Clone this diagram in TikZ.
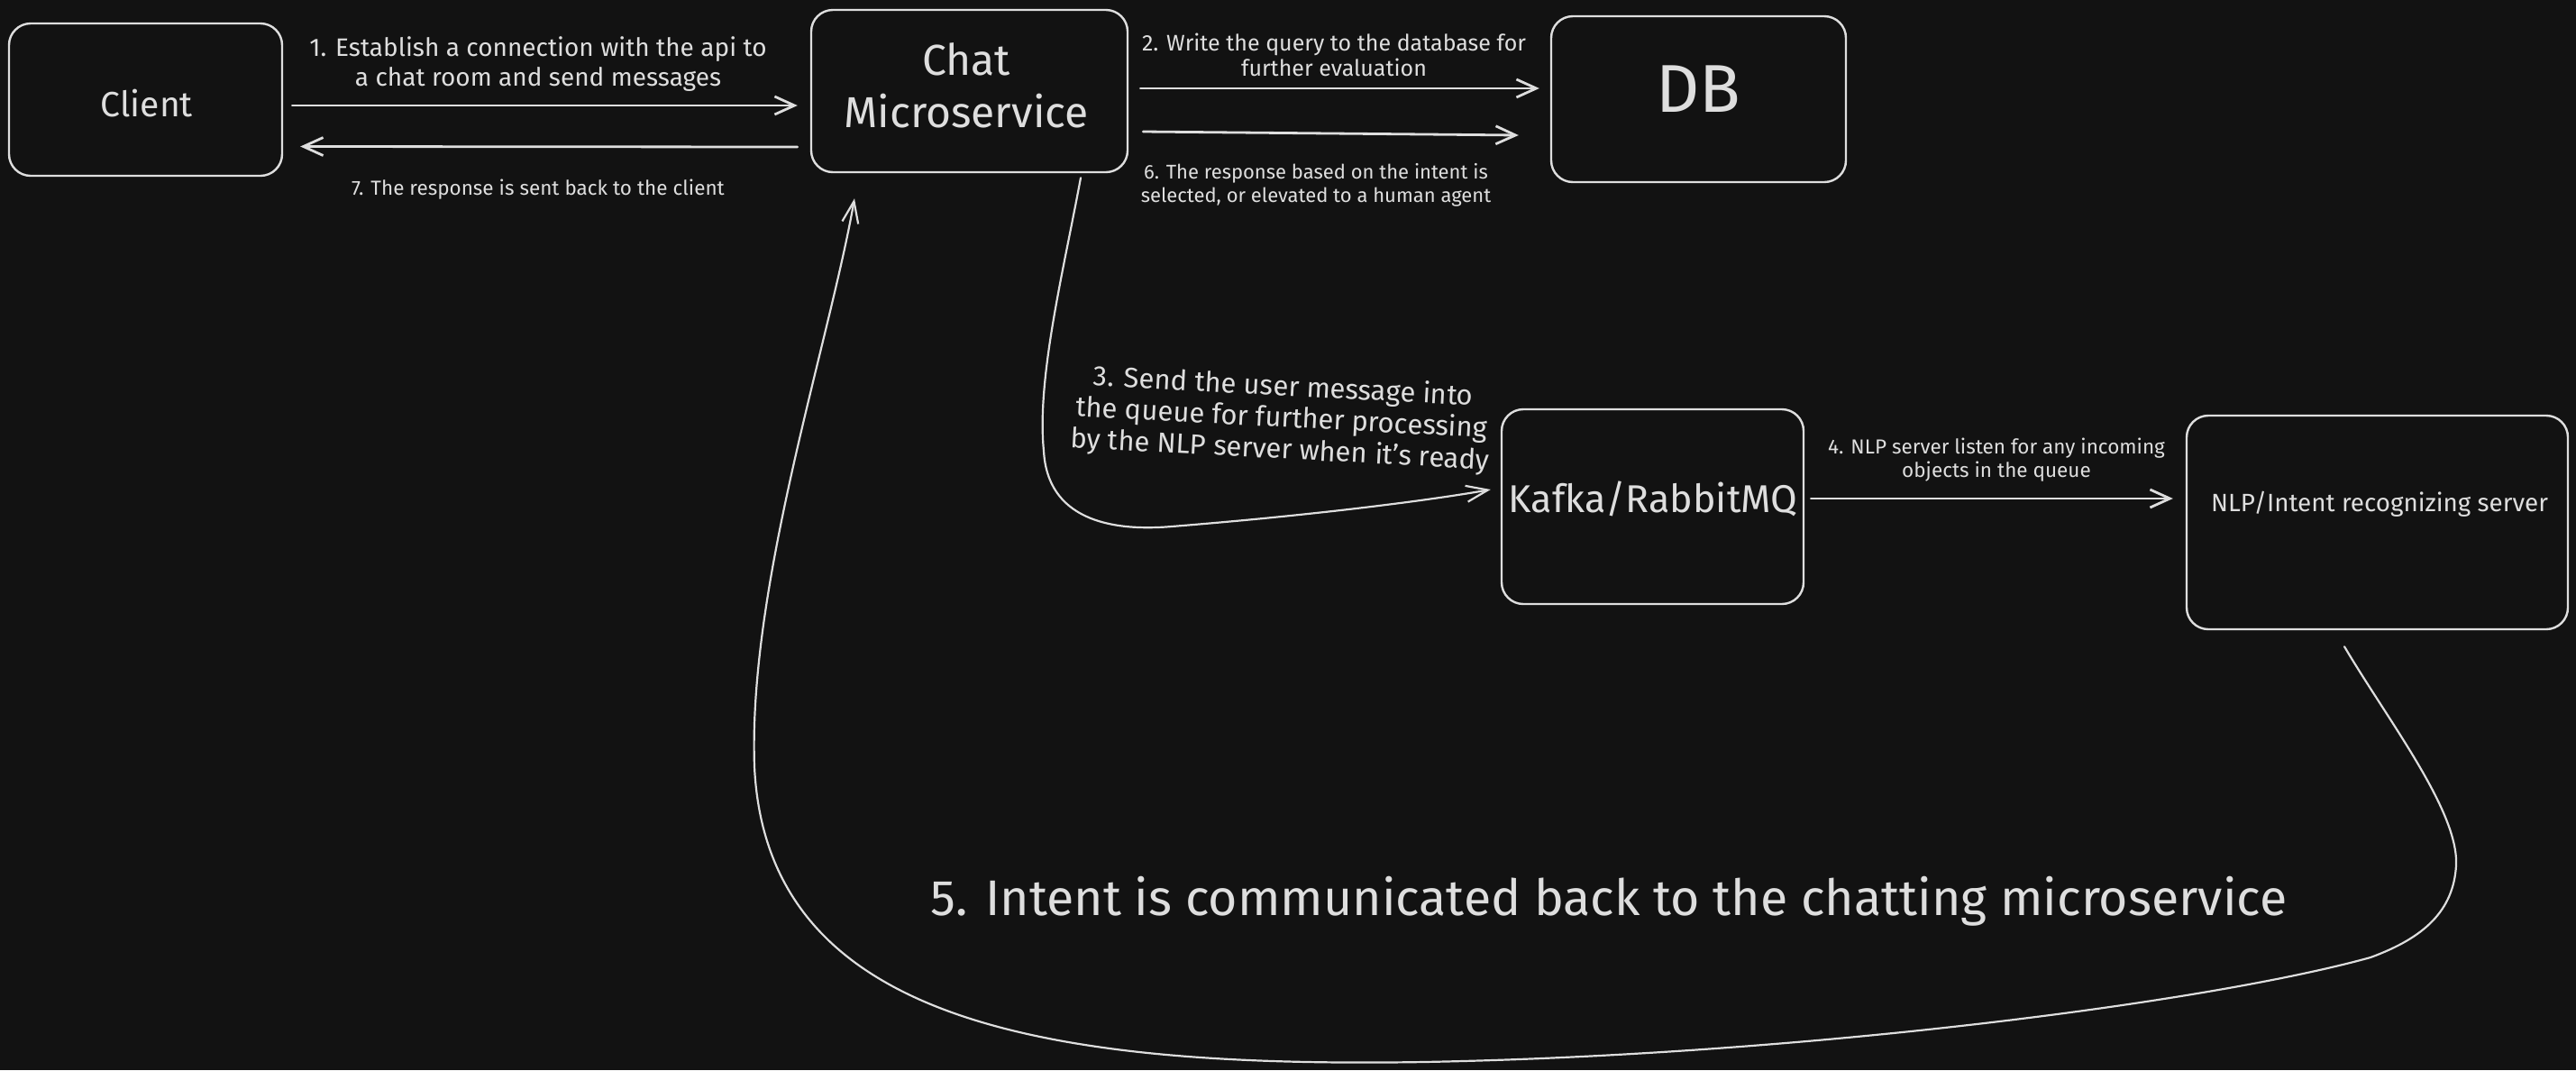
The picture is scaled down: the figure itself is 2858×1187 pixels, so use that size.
\documentclass[tikz,border=0pt]{standalone}
\usepackage{fontspec}
\setmainfont{Fira Sans}
\usetikzlibrary{arrows.meta,calc}
\definecolor{bg}{HTML}{121212}
\definecolor{ink}{HTML}{DEDEDE}
\begin{document}
\begin{tikzpicture}[x=1pt,y=-1pt,
  box/.style={draw=ink, line width=2.4pt, rounded corners=24pt, inner sep=0pt},
  lbl/.style={text=ink, inner sep=0pt, align=center},
  conn/.style={draw=ink, line width=2.8pt, line cap=round, -{Straight Barb[length=22pt,width=20pt,line width=2.8pt]}},
  curvy/.style={draw=ink, line width=2.2pt, line cap=round, -{Straight Barb[length=24pt,width=18pt,line width=2.2pt]}}]
\fill[bg] (0,0) rectangle (2858,1187);
\useasboundingbox (0,0) rectangle (2858,1187);
% boxes
\node[box, minimum width=303pt, minimum height=169pt] (client) at (161.5,110.5) {};
\node[box, minimum width=351pt, minimum height=180pt] (chat) at (1075.5,101) {};
\node[box, minimum width=327pt, minimum height=184pt] (db) at (1884.5,110) {};
\node[box, minimum width=335pt, minimum height=216pt] (kafka) at (1833.5,562) {};
\node[box, minimum width=423pt, minimum height=237pt] (nlp) at (2637.5,579.5) {};
% box labels
\node[lbl, font=\fontsize{39}{44}\selectfont] (clientT) at (163,115) {Client};
\node[lbl, font=\fontsize{48}{58}\selectfont] (chatT) at (1072,95) {Chat\\Microservice};
\node[lbl, font=\fontsize{75}{80}\selectfont] (dbT) at (1884,99) {DB};
\node[lbl, font=\fontsize{43}{48}\selectfont] (kafkaT) at (1834,553) {Kafka/RabbitMQ};
\node[lbl, font=\fontsize{27.8}{32}\selectfont] (nlpT) at (2640,559) {NLP/Intent recognizing server};
% connector labels
\node[lbl, font=\fontsize{28}{33}\selectfont] (t1) at (597,71) {1. Establish a connection with the api to\\a chat room and send messages};
\node[lbl, font=\fontsize{22.5}{26}\selectfont] (t7) at (597,210) {7. The response is sent back to the client};
\node[lbl, font=\fontsize{25}{28}\selectfont] (t2) at (1480,60.5) {2. Write the query to the database for\\further evaluation};
\node[lbl, font=\fontsize{22}{26}\selectfont] (t6) at (1460,205.5) {6. The response based on the intent is\\selected, or elevated to a human agent};
\node[lbl, font=\fontsize{22.5}{26}\selectfont] (t4) at (2215,510) {4. NLP server listen for any incoming\\objects in the queue};
\node[lbl, font=\fontsize{31}{35}\selectfont, rotate=-3] (t3) at (1422,465) {3. Send the user message into\\the queue for further processing\\by the NLP server when it’s ready};
\node[lbl, font=\fontsize{55.5}{62}\selectfont] (t5) at (1785,1000) {5. Intent is communicated back to the chatting microservice};
% connectors
\draw[conn] ($(client.east)+(10,6.5)$) -- ($(chat.west)+(-14,16)$);
\draw[conn] ($(chat.west)+(-14,62)$) -- ($(client.east)+(19,52)$);
\draw[conn] ($(chat.east)+(13,-3)$) -- ($(db.west)+(-12,-12)$);
\draw[conn] ($(chat.east)+(16,45)$) -- ($(db.west)+(-35,40)$);
\draw[conn] ($(kafka.east)+(7,-9)$) -- ($(nlp.west)+(-14,-26.5)$);
\draw[curvy] ($(chat.south)+(123.5,5)$) .. controls (1180,300) and (1150,420) .. (1158,500)
  .. controls (1162,575) and (1230,590) .. (1300,584)
  .. controls (1450,572) and (1580,556) .. ($(kafka.west)+(-11,-19)$);
\draw[curvy] ($(nlp.south)+(-36.5,18)$) .. controls (2650,800) and (2728,900) .. (2725,960)
  .. controls (2722,1010) and (2690,1040) .. (2630,1062)
  .. controls (2450,1112) and (2000,1170) .. (1580,1178)
  .. controls (1150,1185) and (850,1130) .. (837,850)
  .. controls (830,650) and (920,380) .. ($(chat.south)+(-127.5,28)$);
\end{tikzpicture}
\end{document}
